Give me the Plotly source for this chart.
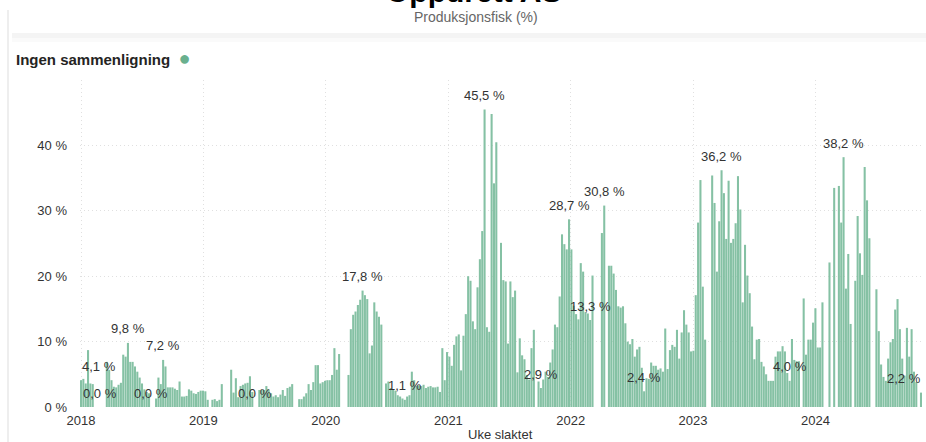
import datetime as dt
import plotly.graph_objects as go

# ---- data: share of production fish (%) per ISO week ----
vals_2018 = [4.1, 4.3, 3.6, 8.7, 3.6, 3.5, 0, 0, 0, 0,
             0, 6.9, 5.7, 4.1, 3.1, 3.0, 3.4, 3.7, 8.0, 7.7,
             9.8, 6.9, 6.9, 6.2, 5.4, 4.5, 3.6, 2.7, 2.3, 2.1,
             0, 0, 1.3, 4.5, 3.5, 7.2, 6.2, 3.0, 3.0, 3.0,
             2.8, 2.6, 3.9, 1.6, 1.6, 1.7, 2.7, 2.5, 2.1, 2.0,
             2.3, 2.5]
vals_2019 = [2.5, 2.4, 1.1, 0, 1.1, 1.2, 0.9, 1.1, 3.5, 0,
             0, 0, 5.7, 2.2, 4.4, 1.5, 3.2, 3.4, 3.6, 3.7,
             4.7, 2.3, 0, 0, 2.6, 2.6, 2.6, 3.2, 2.7, 2.1,
             1.6, 1.8, 1.5, 1.9, 2.6, 1.7, 2.9, 3.1, 3.5, 0,
             0, 1.2, 1.2, 1.6, 2.1, 3.5, 2.6, 3.8, 6.4, 6.4,
             3.6, 3.8]
vals_2020 = [4.0, 4.1, 4.1, 4.9, 9.0, 5.7, 8.1, 0, 0, 0,
             4.9, 11.9, 14.1, 14.6, 15.6, 16.4, 17.8, 17.1, 16.5, 8.2,
             9.4, 16.0, 14.6, 13.8, 12.6, 0, 3.6, 3.9, 2.9, 2.6,
             2.5, 1.8, 1.6, 1.3, 1.1, 1.6, 1.8, 5.4, 4.1, 3.2,
             3.3, 3.2, 3.4, 2.9, 3.1, 3.2, 3.0, 3.0, 3.1, 2.3,
             9.0, 4.1, 8.4]
vals_2021 = [7.7, 6.3, 9.5, 10.8, 11.1, 5.6, 10.9, 14.2, 20.0, 19.3,
             13.1, 11.9, 18.3, 22.6, 26.9, 45.5, 12.2, 11.5, 44.8, 34.2,
             40.5, 0, 25.1, 19.4, 19.2, 9.7, 19.2, 16.8, 17.8, 5.3,
             10.5, 7.9, 7.3, 4.9, 4.2, 9.0, 11.8, 0, 3.9, 2.9,
             4.2, 5.4, 4.6, 6.8, 8.8, 12.6, 12.2, 16.9, 26.4, 24.9,
             24.1, 28.7]
vals_2022 = [24.1, 15.5, 14.2, 13.4, 22.0, 20.7, 14.5, 14.3, 13.3, 20.1,
             0, 0, 0, 26.6, 30.8, 0, 21.6, 21.6, 20.4, 17.9,
             15.4, 15.2, 15.4, 12.8, 10.0, 9.6, 10.4, 7.7, 8.8, 9.2,
             6.0, 2.4, 4.4, 4.3, 6.8, 6.3, 6.3, 5.7, 5.9, 5.4,
             12.0, 5.8, 8.7, 9.5, 9.2, 11.8, 7.4, 11.4, 14.8, 12.6,
             11.4, 8.5]
vals_2023 = [8.6, 17.1, 28.2, 34.7, 18.4, 10.3, 0, 0, 35.4, 31.2,
             20.7, 28.4, 36.2, 32.7, 25.7, 34.6, 25.1, 25.7, 28.1, 35.3,
             30.2, 16.0, 24.8, 20.1, 17.4, 12.3, 7.3, 10.3, 10.4, 6.9,
             6.2, 5.0, 4.0, 4.0, 4.0, 7.7, 8.5, 8.5, 9.3, 8.5,
             5.2, 4.0, 10.4, 7.2, 7.0, 7.0, 0, 16.6, 8.0, 10.3,
             10.3, 12.9]
vals_2024 = [15.1, 9.1, 9.1, 16.0, 0, 0, 22.1, 0, 33.5, 0,
             33.8, 28.2, 38.2, 18.1, 23.4, 12.7, 0, 19.3, 29.2, 23.5,
             20.2, 36.7, 31.6, 25.8, 0, 0, 18.0, 11.6, 6.5, 4.6,
             4.0, 7.4, 9.9, 10.4, 14.9, 16.5, 11.9, 7.4, 4.8, 12.1,
             7.7, 11.9, 5.4, 3.8, 0, 2.2]

years = [2018, 2019, 2020, 2021, 2022, 2023, 2024]
year_values = [vals_2018, vals_2019, vals_2020, vals_2021, vals_2022, vals_2023, vals_2024]

# ISO (year, week) of the points that carry a data label
label_points = [(2018, 1), (2018, 9), (2018, 21), (2018, 31), (2018, 36),
                (2019, 23), (2020, 17), (2020, 35), (2021, 16), (2021, 40),
                (2021, 52), (2022, 9), (2022, 15), (2022, 32), (2023, 13),
                (2023, 42), (2024, 13), (2024, 46)]

series_name = "Ingen sammenligning"
title_text = "Oppdrett AS"
subtitle_text = "Produksjonsfisk (%)"
x_title = "Uke slaktet"
y_ticks = [0, 10, 20, 30, 40]
y_tick_labels = ["0 %", "10 %", "20 %", "30 %", "40 %"]

# ---- build weekly series ----
weeks, values, keys = [], [], []
for yr, vals in zip(years, year_values):
    for w, v in enumerate(vals, start=1):
        weeks.append(dt.date.fromisocalendar(yr, w, 1))
        values.append(v)
        keys.append((yr, w))

BAR = "#85c1a4"
DOT = "#69b08e"
TXT = "#333333"
FONT = "Liberation Sans, Arial, sans-serif"

fig = go.Figure(go.Bar(x=weeks, y=values, marker=dict(color=BAR, line=dict(width=0)),
                       name=series_name, showlegend=False))

# plot area in pixels: x 80..922, y 80..407
L, R, T, B = 80, 4, 80, 35
W, H = 926, 442
pw, ph = W - L - R, H - T - B


def px(xpix):
    return (xpix - L) / pw


def py(ypix):
    return (H - B - ypix) / ph


annotations = []
for k in label_points:
    idx = keys.index(k)
    v = values[idx]
    txt = f"{v:.1f}".replace(".", ",") + " %"
    anchor, shift = "center", 0
    if idx == 0:
        anchor, shift = "left", -1
    elif idx == len(values) - 1:
        anchor, shift = "right", 2
    annotations.append(dict(x=weeks[idx], y=v, xref="x", yref="y", text=txt,
                            showarrow=False, yshift=14, xshift=shift, xanchor=anchor,
                            yanchor="middle", font=dict(size=13, color=TXT, family=FONT)))

annotations += [
    dict(x=px(474), y=py(10), xref="paper", yref="paper", text=f"<b>{title_text}</b>",
         showarrow=False, xanchor="center", yanchor="bottom",
         font=dict(size=30, color="#000000", family=FONT)),
    dict(x=px(476), y=py(17), xref="paper", yref="paper", text=subtitle_text,
         showarrow=False, xanchor="center", yanchor="middle",
         font=dict(size=14, color="#666666", family=FONT)),
    dict(x=px(14), y=py(58), xref="paper", yref="paper",
         text=f"<b>{series_name}</b>  <span style='color:{DOT};font-size:20px'>●</span>",
         showarrow=False, xanchor="left", yanchor="middle",
         font=dict(size=15, color="#252423", family=FONT)),
    dict(x=px(500), y=py(434), xref="paper", yref="paper", text=x_title,
         showarrow=False, xanchor="center", yanchor="middle",
         font=dict(size=13, color=TXT, family=FONT)),
]

shapes = [
    dict(type="rect", xref="paper", yref="paper", x0=px(12), x1=px(926), y0=py(38), y1=py(33),
         fillcolor="rgba(0,0,0,0.045)", line=dict(width=0), layer="below"),
    dict(type="rect", xref="paper", yref="paper", x0=px(12), x1=px(926), y0=py(42), y1=py(38),
         fillcolor="rgba(0,0,0,0.02)", line=dict(width=0), layer="below"),
    dict(type="line", xref="paper", yref="paper", x0=px(8), x1=px(8), y0=py(442), y1=py(10),
         line=dict(color="#eeeeee", width=2), layer="below"),
]

x0 = weeks[0] - dt.timedelta(days=3.6)
x1 = weeks[-1] + dt.timedelta(days=3.6)

GRID = dict(showgrid=True, gridcolor="#e0e0e0", griddash="1px,3px", gridwidth=1)

fig.update_layout(
    width=W, height=H, autosize=False,
    margin=dict(l=L, r=R, t=T, b=B, pad=0),
    paper_bgcolor="white", plot_bgcolor="white",
    bargap=0.12,
    showlegend=False,
    font=dict(family=FONT, size=13, color=TXT),
    annotations=annotations,
    shapes=shapes,
    xaxis=dict(type="date", range=[x0, x1], tick0="2018-01-01", dtick="M12", tickformat="%Y",
               zeroline=False, showline=False, ticks="", ticklabelstandoff=4,
               tickfont=dict(size=13, color=TXT, family=FONT), automargin=False, **GRID),
    yaxis=dict(range=[0, 50], tickmode="array", tickvals=y_ticks, ticktext=y_tick_labels,
               zeroline=False, showline=False, ticks="", ticklabelstandoff=12,
               tickfont=dict(size=13, color=TXT, family=FONT), automargin=False, **GRID),
)

fig.write_html("out.html", config={"displayModeBar": False},
               post_script="document.body.style.margin='0';document.body.style.overflow='hidden';")
